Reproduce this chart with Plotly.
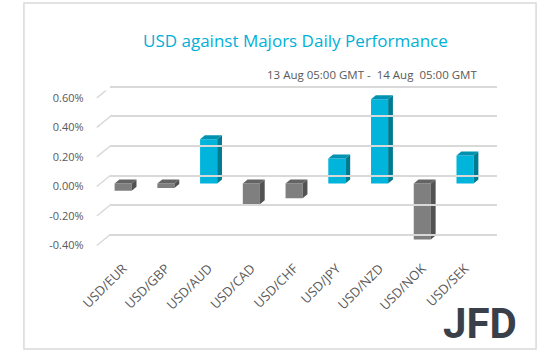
import plotly.graph_objects as go

categories = ["USD/EUR", "USD/GBP", "USD/AUD", "USD/CAD", "USD/CHF",
              "USD/JPY", "USD/NZD", "USD/NOK", "USD/SEK"]
values = [-0.05, -0.03, 0.30, -0.14, -0.10, 0.17, 0.57, -0.38, 0.19]
tick_vals = [-0.4, -0.2, 0.0, 0.2, 0.4, 0.6]
tick_text = ["-0.40%", "-0.20%", "0.00%", "0.20%", "0.40%", "0.60%"]

W, H = 538, 351
UP, DOWN = "#00b4dc", "#7f7f7f"
UP_SIDE, DOWN_SIDE = "#007a90", "#525252"
UP_TOP, DOWN_TOP = "#0092b0", "#646464"

YR = [-0.45, 0.65]
PXU = 148.0  # px per 1 %


def xd(a, b):
    return [a / W, b / W]


def yd(zero_px):
    top = zero_px - YR[1] * PXU
    bot = zero_px - YR[0] * PXU
    return [1 - bot / H, 1 - top / H]


fig = go.Figure()
n = len(categories)
xs = list(range(n))
bw = 0.40
cat_px = (484.2 - 83.2) / n
dx = 5.0 / cat_px
dy = 4.0 / PXU

colors = [UP if v >= 0 else DOWN for v in values]
fig.add_trace(go.Bar(x=xs, y=values, width=bw, marker=dict(color=colors, line=dict(width=0)),
                     xaxis="x", yaxis="y", hoverinfo="skip", showlegend=False))

for i, v in enumerate(values):
    l, r = i - bw / 2, i + bw / 2
    top_y = max(v, 0)
    bot_y = min(v, 0)
    side_c = UP_SIDE if v >= 0 else DOWN_SIDE
    top_c = UP_TOP if v >= 0 else DOWN_TOP
    # side face
    fig.add_trace(go.Scatter(x=[r, r, r + dx, r + dx, r], y=[bot_y, top_y, top_y + dy, bot_y + dy, bot_y],
                             fill="toself", fillcolor=side_c, mode="lines", line=dict(width=0),
                             xaxis="x", yaxis="y", hoverinfo="skip", showlegend=False))
    # top face
    fig.add_trace(go.Scatter(x=[l, r, r + dx, l + dx, l], y=[top_y, top_y, top_y + dy, top_y + dy, top_y],
                             fill="toself", fillcolor=top_c, mode="lines", line=dict(width=0),
                             xaxis="x", yaxis="y", hoverinfo="skip", showlegend=False))

# invisible traces to activate the other axes
fig.add_trace(go.Scatter(x=[0], y=[0], mode="markers", marker=dict(opacity=0), xaxis="x2", yaxis="y2",
                         hoverinfo="skip", showlegend=False))
fig.add_trace(go.Scatter(x=[0], y=[0], mode="markers", marker=dict(opacity=0), xaxis="x3", yaxis="y3",
                         hoverinfo="skip", showlegend=False))

fig.update_layout(
    width=W, height=H, margin=dict(l=0, r=0, t=0, b=0),
    paper_bgcolor="white", plot_bgcolor="rgba(0,0,0,0)",
    font=dict(family="Open Sans", color="#595959"),
    # bars
    xaxis=dict(domain=xd(83.2, 484.2), range=[-0.5, n - 0.5], tickvals=xs, ticktext=categories,
               tickangle=-45, showgrid=False, zeroline=False, showline=False,
               ticks="outside", ticklen=5, tickcolor="rgba(0,0,0,0)",
               tickfont=dict(size=13, color="#595959"), anchor="y"),
    yaxis=dict(domain=yd(183), range=YR, visible=False, fixedrange=True, anchor="x"),
    # back wall grid
    xaxis2=dict(domain=xd(92, 495), range=[0, 1], visible=False, anchor="y2"),
    yaxis2=dict(domain=yd(175), range=YR, tickvals=tick_vals, showticklabels=False,
                showgrid=True, gridcolor="#d9d9d9", gridwidth=1.5, zeroline=False,
                showline=False, anchor="x2", layer="below traces"),
    # front labels
    xaxis3=dict(domain=xd(78, 480), range=[0, 1], visible=False, anchor="y3"),
    yaxis3=dict(domain=yd(186), range=YR, tickvals=tick_vals, ticktext=tick_text,
                showgrid=False, zeroline=False, showline=False, anchor="x3",
                ticks="outside", ticklen=10, tickcolor="rgba(0,0,0,0)",
                tickfont=dict(size=11, color="#595959")),
)

# diagonal wall lines (front-left corner to back wall)
off = 11.0 / PXU
for v in tick_vals:
    fig.add_shape(type="line", xref="paper", yref="y3", x0=78 / W, x1=92 / W, y0=v, y1=v + off,
                  line=dict(color="#d9d9d9", width=1.5), layer="below")

# border
fig.add_shape(type="rect", xref="paper", yref="paper", x0=2 / W, x1=1 - 2 / W, y0=2 / H, y1=1 - 2 / H,
              line=dict(color="#d9d9d9", width=1.5))

fig.add_annotation(text="USD against Majors Daily Performance", xref="paper", yref="paper",
                   x=285 / W, y=1 - 40 / H, showarrow=False, xanchor="center", yanchor="middle",
                   font=dict(size=17, color="#00b0d8", family="Open Sans"))
fig.add_annotation(text="13 Aug 05:00 GMT -  14 Aug  05:00 GMT", xref="paper", yref="paper",
                   x=477 / W, y=1 - 74 / H, showarrow=False, xanchor="right", yanchor="middle",
                   font=dict(size=11.5, color="#595959", family="Open Sans"))
fig.add_annotation(text="<b>JFD</b>", xref="paper", yref="paper",
                   x=518 / W, y=1 - 323 / H, showarrow=False, xanchor="right", yanchor="middle",
                   font=dict(size=42, color="#3a4049", family="Roboto"))

fig.write_html("out.html")
